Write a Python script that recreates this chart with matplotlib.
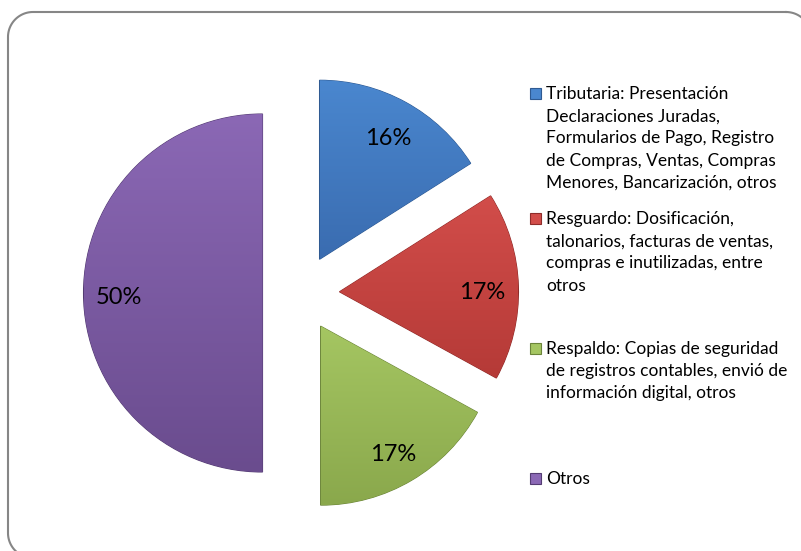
import numpy as np
import matplotlib
matplotlib.use('Agg')
import matplotlib.pyplot as plt
from matplotlib.patches import Rectangle
from matplotlib.colors import LinearSegmentedColormap

plt.rcParams['font.family'] = ['Lato', 'DejaVu Sans']

# ── DATA ──
shares = [16, 17, 17, 50]
labels = [
    'Tributaria: Presentación\nDeclaraciones Juradas,\nFormularios de Pago, Registro\nde Compras, Ventas, Compras\nMenores, Bancarización, otros',
    'Resguardo: Dosificación,\ntalonarios, facturas de ventas,\ncompras e inutilizadas, entre\notros',
    'Respaldo: Copias de seguridad\nde registros contables, envió de\ninformación digital, otros',
    'Otros',
]
top_colors = ['#4a87cf', '#d24d4a', '#a5c662', '#8b68b5']
bottom_colors = ['#3a6cb0', '#b53a37', '#8aa84c', '#6a4c8e']
edge_colors = ['#2f5a92', '#8f2c2a', '#6c853a', '#543c72']

# ── FIGURE ──
W, H = 801, 551
fig = plt.figure(figsize=(W / 100, H / 100), dpi=100)

# background axes in pixel units (y down) for the rounded border
bg = fig.add_axes([0, 0, 1, 1])
bg.set_xlim(0, W)
bg.set_ylim(H, 0)
bg.axis('off')

# rounded border, right/bottom sides run off the picture like the original
def rounded_rect(x0, y0, x1, y1, r, n=30):
    pts = []
    corners = [(x1 - r, y0 + r, -90, 0), (x1 - r, y1 - r, 0, 90),
               (x0 + r, y1 - r, 90, 180), (x0 + r, y0 + r, 180, 270)]
    for ccx, ccy, a0, a1 in corners:
        a = np.radians(np.linspace(a0, a1, n))
        pts.append(np.column_stack([ccx + r * np.cos(a), ccy + r * np.sin(a)]))
    pts = np.vstack(pts + [pts[0][:1]])
    return pts[:, 0], pts[:, 1]

bx, by = rounded_rect(8, 12, 811, 558, 25)
bg.plot(bx, by, color='#868686', linewidth=1.5)

# pie axes: full figure, 1 data unit = pie radius in pixels
R = 179
cx, cy = 301, H - 293
ax = fig.add_axes([0, 0, 1, 1])
ax.patch.set_visible(False)
wedges, texts, autotexts = ax.pie(
    shares, startangle=90, counterclock=False, explode=[0.215] * 4,
    autopct='%.0f%%', pctdistance=0.8, colors=top_colors,
    textprops={'fontsize': 17, 'color': 'black'})
ax.set_aspect('equal')
ax.axis('off')

# vertical gradient inside every wedge
for w, c_top, c_bot, c_edge in zip(wedges, top_colors, bottom_colors, edge_colors):
    w.set_edgecolor(c_edge)
    w.set_linewidth(0.8)
    ext = w.get_path().get_extents(w.get_patch_transform())
    cmap = LinearSegmentedColormap.from_list('g', [c_bot, c_top])
    grad = np.linspace(0, 1, 256).reshape(-1, 1)
    im = ax.imshow(grad, cmap=cmap, origin='lower', aspect='auto',
                   extent=[ext.x0, ext.x1, ext.y0, ext.y1], zorder=w.get_zorder())
    im.set_clip_path(w)
for t in autotexts:
    t.set_zorder(5)
    t.set_va('center_baseline')
    px, py = t.get_position()
    t.set_position((px, py - 3 / R))
ax.set_xlim(-cx / R, (W - cx) / R)
ax.set_ylim(-cy / R, (H - cy) / R)

# ── LEGEND (manual, entries in equal slots, top aligned) ──
first_line_y = [93, 218, 348, 478]
for lab, y, c_top, c_edge in zip(labels, first_line_y, top_colors, edge_colors):
    bg.add_patch(Rectangle((530, y - 5.5), 11, 11, facecolor=c_top,
                           edgecolor=c_edge, linewidth=0.8))
    bg.text(546, y - 7, lab, fontsize=12.5, va='top', ha='left',
            linespacing=1.48)

fig.savefig('out.png', dpi=100)
